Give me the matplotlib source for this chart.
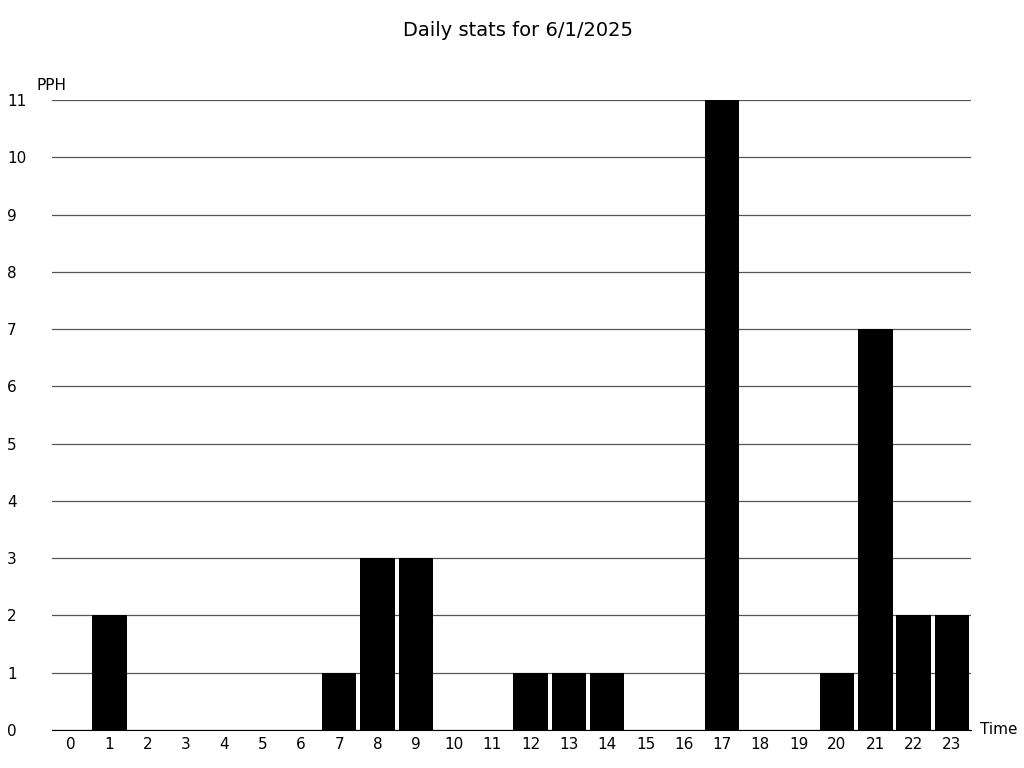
import matplotlib
matplotlib.use('Agg')
import matplotlib.pyplot as plt

# hourly counts
hours  = list(range(24))
counts = [0, 2, 0, 0, 0, 0, 0, 1, 3, 3, 0, 0,
          1, 1, 1, 0, 0, 11, 0, 0, 1, 7, 2, 2]
y_ticks = list(range(12))

fig = plt.figure(figsize=(10.24, 7.68), dpi=100)
ax = fig.add_axes([52/1024, 38/768, 919/1024, 630/768])

ax.bar(hours, counts, width=0.9, color='black', zorder=3)

ax.set_xlim(-0.5, 23.5)
ax.set_ylim(0, 11)
ax.set_xticks(hours)
ax.set_yticks(y_ticks)
ax.tick_params(length=0, labelsize=11)
ax.tick_params(axis='y', pad=32.5)   # points; labels left-aligned at x~7px
ax.tick_params(axis='x', pad=5)
for lbl in ax.get_yticklabels():
    lbl.set_horizontalalignment('left')
ax.yaxis.grid(True, color='#555555', linewidth=0.9, zorder=0)
ax.set_axisbelow(True)

for s in ['top', 'right', 'left']:
    ax.spines[s].set_visible(False)
ax.spines['bottom'].set_color('black')
ax.spines['bottom'].set_zorder(4)

fig.text(518/1024, 1 - 30/768, 'Daily stats for 6/1/2025', fontsize=14,
         ha='center', va='center')
fig.text(37/1024, 1 - 85/768, 'PPH', fontsize=11, ha='left', va='center')
fig.text(980/1024, 1 - 730/768, 'Time', fontsize=11, ha='left', va='center')

fig.savefig('out.png', dpi=100)
